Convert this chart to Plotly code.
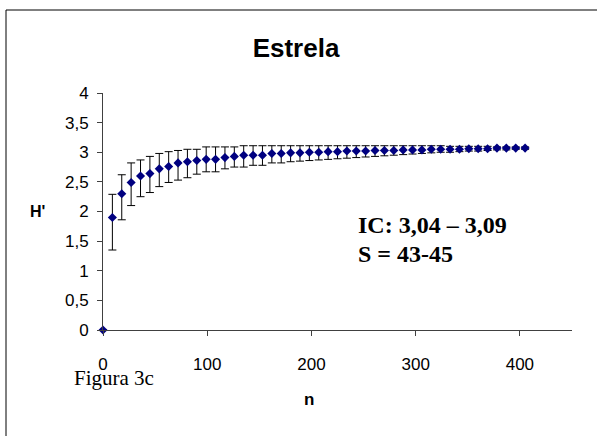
import plotly.graph_objects as go

n = [0, 9, 18, 27, 36, 45, 54, 63, 72, 81, 90, 99, 108, 117, 126, 135, 144, 153,
     162, 171, 180, 189, 198, 207, 216, 225, 234, 243, 252, 261, 270, 279, 288,
     297, 306, 315, 324, 333, 342, 351, 360, 369, 378, 387, 396, 405]
H = [0.00, 1.90, 2.30, 2.49, 2.60, 2.64, 2.72, 2.76, 2.82, 2.84, 2.86, 2.88, 2.88,
     2.91, 2.93, 2.95, 2.95, 2.95, 2.98, 2.98, 2.99, 2.99, 3.00, 3.00, 3.01, 3.01,
     3.02, 3.02, 3.02, 3.03, 3.03, 3.03, 3.04, 3.04, 3.04, 3.05, 3.05, 3.05, 3.05,
     3.06, 3.06, 3.06, 3.07, 3.07, 3.07, 3.07]
H_upper = [0.00, 2.29, 2.62, 2.82, 2.87, 2.93, 2.98, 3.01, 3.03, 3.05, 3.05, 3.09, 3.09,
           3.09, 3.09, 3.11, 3.11, 3.11, 3.11, 3.11, 3.11, 3.11, 3.11, 3.11, 3.11, 3.11,
           3.11, 3.11, 3.11, 3.11, 3.11, 3.11, 3.11, 3.11, 3.11, 3.11, 3.11, 3.10, 3.10,
           3.10, 3.10, 3.10, 3.09, 3.09, 3.09, 3.09]
H_lower = [0.00, 1.35, 1.86, 2.10, 2.25, 2.32, 2.42, 2.49, 2.53, 2.57, 2.63, 2.67, 2.67,
           2.72, 2.75, 2.75, 2.78, 2.78, 2.82, 2.82, 2.84, 2.85, 2.86, 2.87, 2.88, 2.89,
           2.90, 2.91, 2.92, 2.93, 2.94, 2.95, 2.96, 2.97, 2.98, 2.99, 3.00, 3.00, 3.01,
           3.02, 3.02, 3.03, 3.04, 3.04, 3.05, 3.05]

err_plus = [u - h for u, h in zip(H_upper, H)]
err_minus = [h - l for h, l in zip(H, H_lower)]

W, Hgt = 597, 436
ml, mr, mt, mb = 103, 25, 93, 106
pw, ph = W - ml - mr, Hgt - mt - mb

def px2x(p):
    return (p - ml) / pw

def px2y(p):
    return (Hgt - mb - p) / ph

SANS = "Liberation Sans, Arial"
SERIF = "Liberation Serif, Times New Roman"

fig = go.Figure()
fig.add_trace(go.Scatter(
    x=n, y=H, mode="markers",
    marker=dict(symbol="diamond", size=7, color="#000080"),
    error_y=dict(type="data", symmetric=False, array=err_plus, arrayminus=err_minus,
                 color="black", thickness=1, width=4),
    cliponaxis=False, showlegend=False,
))

fig.update_layout(
    width=W, height=Hgt,
    margin=dict(l=ml, r=mr, t=mt, b=mb),
    paper_bgcolor="white", plot_bgcolor="white",
    separators=",.",
    font=dict(family=SANS, size=17, color="black"),
    title=dict(text="<b>Estrela</b>", x=px2x(296), xref="paper", xanchor="center",
               y=1 - 48 / Hgt, yanchor="middle",
               font=dict(size=26, family=SANS)),
    xaxis=dict(range=[0, 450], showgrid=False, zeroline=False,
               showline=True, linecolor="#404040", linewidth=1,
               ticks="outside", ticklen=5, tickcolor="#404040",
               tickvals=[0, 100, 200, 300, 400], ticklabelstandoff=14),
    yaxis=dict(range=[0, 4], dtick=0.5, showgrid=False, zeroline=False,
               showline=True, linecolor="#404040", linewidth=1,
               ticks="outside", ticklen=5, tickcolor="#404040", tickformat=".1~f",
               ticklabelstandoff=5),
)

fig.add_shape(type="rect", xref="paper", yref="paper",
              x0=px2x(6), y0=px2y(445), x1=px2x(605), y1=px2y(10),
              line=dict(color="black", width=1))

def note(text, x, y, size, family, xanchor="center"):
    fig.add_annotation(text=text, xref="paper", yref="paper",
                       x=px2x(x), y=px2y(y), xanchor=xanchor, yanchor="middle",
                       showarrow=False, font=dict(size=size, family=family))

note("<b>H'</b>", 37, 211, 16, SANS)
note("<b>n</b>", 309, 399, 17, SANS)
note("Figura 3c", 72, 378, 21, SERIF, xanchor="left")
note("<b>IC: 3,04 – 3,09</b>", 356, 225, 24, SERIF, xanchor="left")
note("<b>S = 43-45</b>", 356, 254, 24, SERIF, xanchor="left")

fig.write_html("out.html")
